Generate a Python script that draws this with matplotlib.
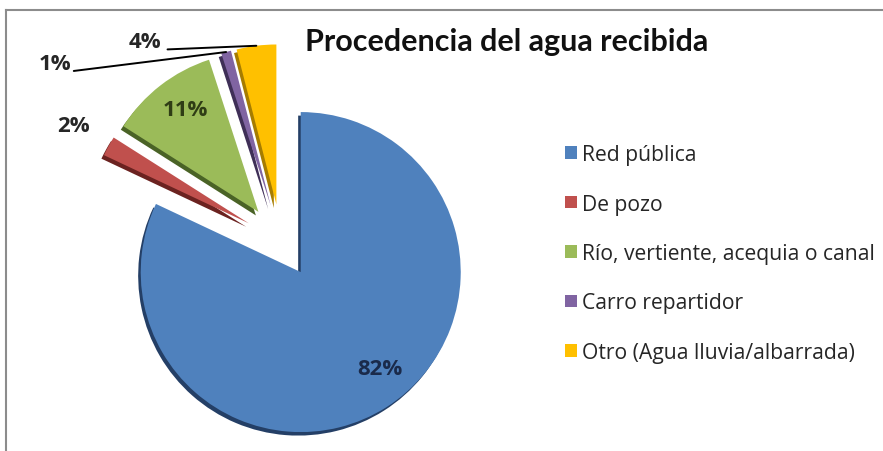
import numpy as np
import matplotlib.pyplot as plt
from matplotlib.lines import Line2D

plt.rcParams['font.family'] = ['Lato', 'DejaVu Sans']

# data
categories = ["Red pública", "De pozo", "Río, vertiente, acequia o canal",
              "Carro repartidor", "Otro (Agua lluvia/albarrada)"]
shares = [82, 2, 11, 1, 4]
pct_labels = ["82%", "2%", "11%", "1%", "4%"]
colors = ["#4F81BD", "#C0504D", "#9BBB59", "#8064A2", "#FFC000"]
shadow_colors = ["#243F66", "#6B2220", "#4A6326", "#3F2F57", "#A67C00"]

W, H = 883, 452
R = 160            # pie radius in pixels
cx, cy = 281, 242  # pie centre in pixels (from top-left)
explode = [0.23] * len(shares)

fig = plt.figure(figsize=(W / 100, H / 100), dpi=100)
ax = fig.add_axes([0, 0, 1, 1])

# darker copy behind gives the bevel / 3D edge
ax.pie(shares, colors=shadow_colors, explode=explode, startangle=90,
       counterclock=False, radius=1, center=(-0.016, -0.022))
wedges, _ = ax.pie(shares, colors=colors, explode=explode, startangle=90,
                   counterclock=False, radius=1)

ax.set_xlim(-cx / R, (W - cx) / R)
ax.set_ylim(-(H - cy) / R, cy / R)
ax.axis("off")


def px(x, y):
    # picture pixel position -> data coords of the pie axes
    return (x - cx) / R, (cy - y) / R


def wedge_top(w, frac=0.5):
    th = np.deg2rad(w.theta1 + frac * (w.theta2 - w.theta1))
    c = w.center
    return c[0] + w.r * np.cos(th), c[1] + w.r * np.sin(th)


lab_kw = dict(fontsize=16, fontweight="bold", family=["Open Sans", "DejaVu Sans"])

ax.text(*px(380, 370), pct_labels[0], ha="center", va="center",
        color="#1A2A4A", **lab_kw)
ax.text(*px(185, 110), pct_labels[2], ha="center", va="center",
        color="#2F3D15", **lab_kw)
ax.text(*px(73, 126), pct_labels[1], ha="center", va="center",
        color="#262626", **lab_kw)

ax.annotate(pct_labels[3], xy=wedge_top(wedges[3]), xytext=px(71, 64),
            ha="right", va="center", color="#262626",
            arrowprops=dict(arrowstyle="-", color="black", lw=1.4,
                            shrinkA=0, shrinkB=0,
                            relpos=(1.08, 0.12)), **lab_kw)
ax.annotate(pct_labels[4], xy=wedge_top(wedges[4], 0.5), xytext=px(161, 42),
            ha="right", va="center", color="#262626",
            arrowprops=dict(arrowstyle="-", color="black", lw=1.4,
                            shrinkA=0, shrinkB=0,
                            relpos=(1.2, 0.1)), **lab_kw)

fig.text(507 / W, 1 - 42 / H, "Procedencia del agua recibida", ha="center",
         va="center", fontsize=22, fontweight="bold", color="#111111")

leg = fig.legend(wedges, categories, loc="upper left",
                 bbox_to_anchor=(546 / W, 1 - 126 / H), frameon=False,
                 prop={"family": ["Open Sans", "DejaVu Sans"], "size": 15.2},
                 labelspacing=1.35, handlelength=0.55,
                 handleheight=0.55, handletextpad=0.25, labelcolor="#262626")

# chart frame: only the left and top edges are inside the crop
fig.add_artist(Line2D([6 / W, 6 / W], [0, 1 - 11 / H],
                      transform=fig.transFigure, color="#8C8C8C", lw=1.5))
fig.add_artist(Line2D([6 / W, 1], [1 - 11 / H, 1 - 11 / H],
                      transform=fig.transFigure, color="#8C8C8C", lw=1.5))

fig.savefig("out.png", dpi=100)
